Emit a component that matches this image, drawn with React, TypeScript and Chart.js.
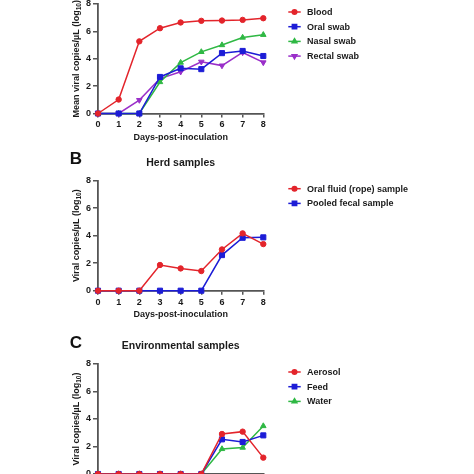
import React, { useEffect, useRef } from "react";
import { Chart, registerables } from "chart.js";
import { drawPoint } from "chart.js/helpers";

Chart.register(...registerables);

// ---------------- data ----------------
const DAYS = [0, 1, 2, 3, 4, 5, 6, 7, 8];

// Panel A (individual samples)
const BLOOD = [0, 1.02, 5.27, 6.23, 6.65, 6.77, 6.79, 6.84, 6.96];
const ORAL_SWAB = [0, 0, 0, 2.67, 3.3, 3.24, 4.41, 4.57, 4.2];
const NASAL_SWAB = [0, 0, 0, 2.3, 3.72, 4.5, 5.0, 5.55, 5.75];
const RECTAL_SWAB = [0, 0, 0.98, 2.55, 3.05, 3.78, 3.5, 4.46, 3.73];

// Panel B (herd samples)
const ORAL_FLUID = [0, 0, 0, 1.87, 1.62, 1.43, 3.0, 4.17, 3.39];
const POOLED_FECAL = [0, 0, 0, 0, 0, 0, 2.59, 3.85, 3.88];

// Panel C (environmental samples)
const AEROSOL = [0, 0, 0, 0, 0, 0, 2.91, 3.08, 1.19];
const FEED = [0, 0, 0, 0, 0, 0, 2.52, 2.33, 2.81];
const WATER = [0, 0, 0, 0, 0, 0, 1.82, 1.92, 3.49];

const X_TITLE = "Days-post-inoculation";

// ---------------- styles ----------------
const FONT_FAMILY = "'Liberation Sans', Arial, Helvetica, sans-serif";
const AXIS_COLOR = "#555555";
const TEXT_COLOR = "#1a1a1a";
const RED = "#e3242b";
const BLUE = "#1c1cd6";
const GREEN = "#2fb844";
const PURPLE = "#9a2fc9";

type Series = {
  label: string;
  data: number[];
  color: string;
  style: string;
  rotation: number;
  radius: number;
};

type PanelSpec = {
  top: number; // canvas top in page px
  height: number;
  padTop: number;
  padBottom: number;
  yTitle: string; // before subscript
  letter?: string;
  title?: string;
  series: Series[];
};

const circle = (label: string, data: number[], color: string): Series => ({
  label, data, color, style: "circle", rotation: 0, radius: 2.7,
});
const square = (label: string, data: number[], color: string): Series => ({
  label, data, color, style: "rect", rotation: 0, radius: 3.6,
});
const tri = (label: string, data: number[], color: string): Series => ({
  label, data, color, style: "triangle", rotation: 0, radius: 3.2,
});
const triDown = (label: string, data: number[], color: string): Series => ({
  label, data, color, style: "triangle", rotation: 180, radius: 3.2,
});

const PANELS: PanelSpec[] = [
  {
    top: -30,
    height: 180,
    padTop: 34,
    padBottom: 6.5,
    yTitle: "Mean viral copies/µL (log",
    series: [
      circle("Blood", BLOOD, RED),
      square("Oral swab", ORAL_SWAB, BLUE),
      tri("Nasal swab", NASAL_SWAB, GREEN),
      triDown("Rectal swab", RECTAL_SWAB, PURPLE),
    ],
  },
  {
    top: 150,
    height: 180,
    padTop: 30.7,
    padBottom: 9.3,
    yTitle: "Viral copies/µL (log",
    letter: "B",
    title: "Herd samples",
    series: [
      circle("Oral fluid (rope) sample", ORAL_FLUID, RED),
      square("Pooled fecal sample", POOLED_FECAL, BLUE),
    ],
  },
  {
    top: 330,
    height: 180,
    padTop: 34,
    padBottom: 6,
    yTitle: "Viral copies/µL (log",
    letter: "C",
    title: "Environmental samples",
    series: [
      circle("Aerosol", AEROSOL, RED),
      square("Feed", FEED, BLUE),
      tri("Water", WATER, GREEN),
    ],
  },
];

const CANVAS_W = 474;
const PLOT_RIGHT = 263.3;
const PLOT_LEFT = 98;
const PAD_LEFT = 60;

function makeDecor(p: PanelSpec) {
  return {
    id: "decor",
    afterDraw(chart: any) {
      const ctx: CanvasRenderingContext2D = chart.ctx;
      const area = chart.chartArea;
      ctx.save();

      // y-axis title with subscript
      const cy = (area.top + area.bottom) / 2;
      ctx.translate(77, cy);
      ctx.rotate(-Math.PI / 2);
      ctx.fillStyle = TEXT_COLOR;
      ctx.textBaseline = "middle";
      ctx.textAlign = "left";
      const mainFont = `bold 9px ${FONT_FAMILY}`;
      const subFont = `bold 6.5px ${FONT_FAMILY}`;
      ctx.font = mainFont;
      const w1 = ctx.measureText(p.yTitle).width;
      const w3 = ctx.measureText(")").width;
      ctx.font = subFont;
      const w2 = ctx.measureText("10").width;
      let x0 = -(w1 + w2 + w3) / 2;
      ctx.font = mainFont;
      ctx.fillText(p.yTitle, x0, 0);
      ctx.font = subFont;
      ctx.fillText("10", x0 + w1, 2.2);
      ctx.font = mainFont;
      ctx.fillText(")", x0 + w1 + w2, 0);
      ctx.setTransform(1, 0, 0, 1, 0, 0);

      // legend
      const rowY0 = area.top + 8;
      p.series.forEach((s, i) => {
        const y = rowY0 + i * 14.7;
        ctx.strokeStyle = s.color;
        ctx.fillStyle = s.color;
        ctx.lineWidth = 1.5;
        ctx.beginPath();
        ctx.moveTo(288.3, y);
        ctx.lineTo(300.7, y);
        ctx.stroke();
        drawPoint(ctx, { pointStyle: s.style, radius: s.radius * 0.85, rotation: s.rotation, borderWidth: 1 } as any, 294.5, y);
        ctx.fillStyle = TEXT_COLOR;
        ctx.font = `bold 9px ${FONT_FAMILY}`;
        ctx.textAlign = "left";
        ctx.textBaseline = "middle";
        ctx.fillText(s.label, 307, y + 0.5);
      });

      // panel title and letter
      if (p.title) {
        ctx.fillStyle = TEXT_COLOR;
        ctx.font = `bold 10.5px ${FONT_FAMILY}`;
        ctx.textAlign = "center";
        ctx.textBaseline = "middle";
        ctx.fillText(p.title, (area.left + area.right) / 2, area.top - 18);
      }
      if (p.letter) {
        ctx.fillStyle = "#111111";
        ctx.font = `bold 17px ${FONT_FAMILY}`;
        ctx.textAlign = "center";
        ctx.textBaseline = "middle";
        ctx.fillText(p.letter, 76, area.top - 21);
      }
      ctx.restore();
    },
  };
}

function Panel({ spec }: { spec: PanelSpec }) {
  const ref = useRef<HTMLCanvasElement>(null);
  useEffect(() => {
    const tickFont = { family: FONT_FAMILY, size: 9, weight: "bold" as const };
    const chart = new Chart(ref.current as HTMLCanvasElement, {
      type: "line",
      data: {
        datasets: spec.series.map((s) => ({
          label: s.label,
          data: DAYS.map((d, i) => ({ x: d, y: s.data[i] })),
          borderColor: s.color,
          backgroundColor: s.color,
          borderWidth: 1.5,
          pointStyle: s.style as any,
          rotation: s.rotation,
          pointRotation: s.rotation,
          pointRadius: s.radius,
          pointBorderWidth: 1,
          pointBackgroundColor: s.color,
          pointBorderColor: s.color,
          tension: 0,
          clip: false as any,
        })),
      },
      options: {
        responsive: false,
        animation: false,
        events: [],
        layout: {
          padding: {
            left: PAD_LEFT,
            right: CANVAS_W - PLOT_RIGHT,
            top: spec.padTop,
            bottom: spec.padBottom,
          },
        },
        plugins: {
          legend: { display: false },
          tooltip: { enabled: false },
          title: { display: false },
        },
        scales: {
          x: {
            type: "linear",
            min: 0,
            max: 8,
            afterFit: (s: any) => {
              s.height = 30;
            },
            ticks: { stepSize: 1, font: tickFont, color: TEXT_COLOR, padding: 2, maxRotation: 0 },
            grid: { display: true, drawOnChartArea: false, drawTicks: true, tickLength: 4, color: AXIS_COLOR, lineWidth: 1.5 },
            border: { display: true, color: AXIS_COLOR, width: 1.8 },
            title: {
              display: true,
              text: X_TITLE,
              font: { family: FONT_FAMILY, size: 9, weight: "bold" },
              color: TEXT_COLOR,
              padding: { top: 0, bottom: 1 },
            },
          },
          y: {
            type: "linear",
            min: 0,
            max: 8,
            afterFit: (s: any) => {
              s.width = PLOT_LEFT - PAD_LEFT;
            },
            ticks: { stepSize: 2, font: tickFont, color: TEXT_COLOR, padding: 2 },
            grid: { display: true, drawOnChartArea: false, drawTicks: true, tickLength: 5, color: AXIS_COLOR, lineWidth: 1.5 },
            border: { display: true, color: AXIS_COLOR, width: 1.8 },
            title: { display: false },
          },
        },
      },
      plugins: [makeDecor(spec)],
    } as any);
    return () => chart.destroy();
  }, [spec]);
  return (
    <canvas
      ref={ref}
      width={CANVAS_W}
      height={spec.height}
      style={{ position: "absolute", left: 0, top: spec.top, width: CANVAS_W, height: spec.height }}
    />
  );
}

export default function App() {
  return (
    <div
      style={{
        position: "fixed",
        left: 0,
        top: 0,
        width: 474,
        height: 474,
        overflow: "hidden",
        background: "#ffffff",
      }}
    >
      {PANELS.map((p, i) => (
        <Panel key={i} spec={p} />
      ))}
    </div>
  );
}
